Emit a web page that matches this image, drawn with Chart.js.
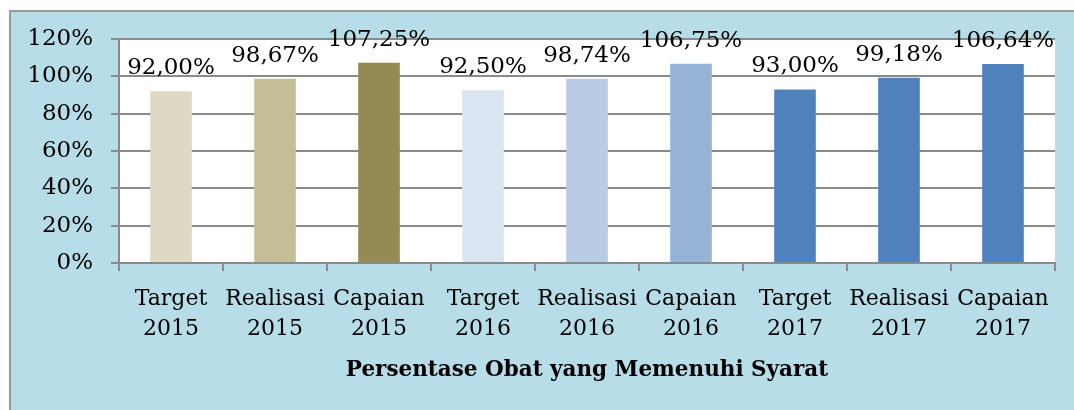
<!DOCTYPE html>
<html>
<head>
<meta charset="utf-8">
<script src="https://cdn.jsdelivr.net/npm/chart.js@4"></script>
<style>
  html, body { margin: 0; padding: 0; background: #fff; overflow: hidden; }
  #wrap { width: 1074px; height: 410px; }
  canvas { display: block; }
</style>
</head>
<body>
<div id="wrap"><canvas id="myChart" width="1074" height="410"></canvas></div>
<script>
// chart data
const categories = [
    ['Target', '2015'], ['Realisasi', '2015'], ['Capaian', '2015'],
    ['Target', '2016'], ['Realisasi', '2016'], ['Capaian', '2016'],
    ['Target', '2017'], ['Realisasi', '2017'], ['Capaian', '2017']
];
const values = [92.00, 98.67, 107.25, 92.50, 98.74, 106.75, 93.00, 99.18, 106.64];
const barColors = ['#ddd9c3', '#c4bd97', '#948a54', '#dbe5f1', '#b8cce4', '#95b3d7', '#4f81bd', '#4f81bd', '#4f81bd'];
const yTicks = [0, 20, 40, 60, 80, 100, 120];
const axisTitle = 'Persentase Obat yang Memenuhi Syarat';

const serif = "'DejaVu Serif', 'Liberation Serif', serif";
const gridColor = '#8a8a8a';

// blue frame behind everything, white plot area
const framePlugin = {
    id: 'frame',
    beforeDraw(chart) {
        const ctx = chart.ctx;
        const a = chart.chartArea;
        ctx.save();
        ctx.fillStyle = '#b7dde8';
        ctx.fillRect(9, 10, chart.width - 9, chart.height - 10);
        ctx.strokeStyle = '#999';
        ctx.lineWidth = 2;
        ctx.beginPath();
        ctx.moveTo(10, chart.height);
        ctx.lineTo(10, 11);
        ctx.lineTo(chart.width, 11);
        ctx.stroke();
        ctx.fillStyle = '#fff';
        ctx.fillRect(a.left, a.top, a.right - a.left, a.bottom - a.top);
        ctx.restore();
    }
};

// value labels on top of the bars
const valueLabels = {
    id: 'valueLabels',
    afterDatasetsDraw(chart) {
        const ctx = chart.ctx;
        const meta = chart.getDatasetMeta(0);
        ctx.save();
        ctx.font = '23px ' + serif;
        ctx.fillStyle = '#000';
        ctx.textAlign = 'center';
        ctx.textBaseline = 'alphabetic';
        meta.data.forEach((bar, i) => {
            const txt = values[i].toFixed(2).replace('.', ',') + '%';
            ctx.fillText(txt, bar.x, bar.y - 17);
        });
        ctx.restore();
    }
};

const ctx = document.getElementById('myChart').getContext('2d');
const myChart = new Chart(ctx, {
    type: 'bar',
    data: {
        labels: categories,
        datasets: [{
            data: values,
            backgroundColor: barColors,
            borderWidth: 0,
            categoryPercentage: 1,
            barPercentage: 0.4
        }]
    },
    options: {
        responsive: false,
        animation: false,
        layout: { padding: { left: 9, top: 39, right: 19, bottom: 0 } },
        plugins: {
            legend: { display: false },
            tooltip: { enabled: false }
        },
        scales: {
            x: {
                afterFit: (s) => { s.height = 147; },
                grid: {
                    drawOnChartArea: false,
                    drawTicks: true,
                    tickLength: 8,
                    color: gridColor,
                    lineWidth: 2
                },
                border: { display: true, color: gridColor, width: 2 },
                ticks: {
                    color: '#000',
                    font: { family: serif, size: 22, lineHeight: 1.38 },
                    padding: 13,
                    maxRotation: 0,
                    autoSkip: false
                },
                title: {
                    display: true,
                    text: axisTitle,
                    color: '#000',
                    font: { family: serif, size: 21.5, weight: 'bold' },
                    padding: { top: 0, bottom: 27 }
                }
            },
            y: {
                min: 0,
                max: 120,
                afterFit: (s) => { s.width = 110; },
                afterBuildTicks: (s) => { s.ticks = yTicks.map(v => ({ value: v })); },
                grid: {
                    color: gridColor,
                    lineWidth: 2,
                    drawTicks: true,
                    tickLength: 8
                },
                border: { display: true, color: gridColor, width: 2 },
                ticks: {
                    color: '#000',
                    font: { family: serif, size: 23 },
                    padding: 18,
                    callback: (v) => v + '%'
                }
            }
        }
    },
    plugins: [framePlugin, valueLabels]
});
</script>
</body>
</html>
